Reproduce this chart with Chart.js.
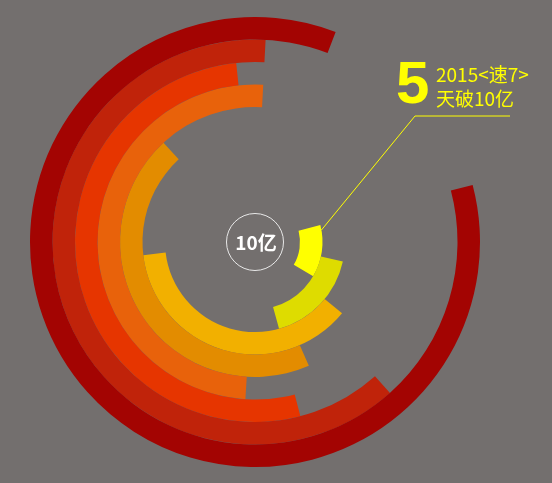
<!DOCTYPE html>
<html>
<head>
<meta charset="utf-8">
<script src="https://cdn.jsdelivr.net/npm/chart.js@4.4.0/dist/chart.umd.min.js"></script>
<style>
  html, body { margin: 0; padding: 0; background: #736f6e; }
  #wrap { width: 552px; height: 483px; position: relative; }
</style>
</head>
<body>
<div id="wrap"><canvas id="c" width="552" height="483"></canvas></div>
<script>
// Ring data: outermost first. Start angle (degrees clockwise from top) and sweep (degrees).
const ringNames = ['r1', 'r2', 'r3', 'r4', 'r5', 'r6', 'r7', 'r8'];
const ringStart = [75.3, 138.2, 165.4, 183.5, 156.5, 129.3, 102.5, 75.5];
const ringSweep = [305.7, 224.8, 188.6, 179.5, 160.8, 134.0, 62.0, 45.0];
const ringColors = ['#a30402', '#c0230a', '#e63500', '#e8620b', '#e38c00', '#f2b000', '#dedc00', '#ffff00'];
const centerLabel = '10亿';
const bigNumber = '5';
const noteLine1 = '2015<速7>';
const noteLine2 = '天破10亿';

const datasets = ringNames.map((n, i) => ({
  label: n,
  data: [ringSweep[i], 360 - ringSweep[i]],
  backgroundColor: [ringColors[i], 'rgba(0,0,0,0)'],
  borderWidth: 0,
  hoverOffset: 0,
  rotation: ringStart[i],
  circumference: 360
}));

const annot = {
  id: 'annot',
  afterDatasetsDraw(chart) {
    const ctx = chart.ctx;
    const meta0 = chart.getDatasetMeta(0);
    const cx = meta0.data[0].x, cy = meta0.data[0].y;
    const last = chart.getDatasetMeta(ringNames.length - 1).data[0];
    // center circle + label
    ctx.save();
    ctx.beginPath();
    ctx.arc(cx, cy, 28.5, 0, Math.PI * 2);
    ctx.strokeStyle = '#e8e8e8';
    ctx.lineWidth = 1;
    ctx.stroke();
    ctx.fillStyle = '#ffffff';
    ctx.font = 'bold 19px "Noto Sans CJK SC", sans-serif';
    ctx.textAlign = 'center';
    ctx.textBaseline = 'middle';
    ctx.fillText(centerLabel, cx + 1, cy + 1);

    // leader line from the innermost arc
    const a = last.startAngle + 4.3 * Math.PI / 180;
    const r = last.outerRadius;
    const sx = cx + r * Math.cos(a), sy = cy + r * Math.sin(a);
    const ex = cx + 160, ey = cy - 126;
    ctx.beginPath();
    ctx.moveTo(sx, sy);
    ctx.lineTo(ex, ey);
    ctx.lineTo(cx + 255, ey);
    ctx.strokeStyle = '#ffff00';
    ctx.lineWidth = 1;
    ctx.stroke();

    // annotation text
    ctx.fillStyle = '#ffff00';
    ctx.textAlign = 'left';
    ctx.textBaseline = 'alphabetic';
    ctx.font = 'bold 60px "Liberation Sans", "Noto Sans CJK SC", sans-serif';
    ctx.fillText(bigNumber, cx + 141, cy - 139);
    ctx.font = '19px "Noto Sans CJK SC", sans-serif';
    ctx.fillText(noteLine1, cx + 181, cy - 160);
    ctx.fillText(noteLine2, cx + 181, cy - 136);
    ctx.restore();
  }
};

new Chart(document.getElementById('c'), {
  type: 'doughnut',
  data: { labels: ['value', 'rest'], datasets },
  options: {
    responsive: false,
    devicePixelRatio: 1,
    animation: false,
    cutout: '20%',
    layout: { padding: { left: 30, right: 72, top: 17, bottom: 16 } },
    plugins: { legend: { display: false }, tooltip: { enabled: false } },
    events: []
  },
  plugins: [annot]
});
</script>
</body>
</html>
